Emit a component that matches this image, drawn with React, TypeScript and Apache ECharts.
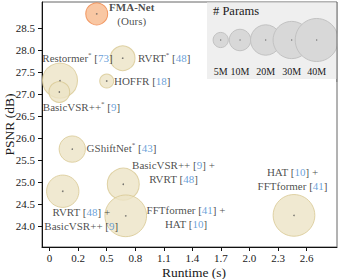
import React, { useEffect, useRef } from "react";
import * as echarts from "echarts";

// ---- data ----
const models = [
  "FMA-Net",
  "RVRT*",
  "Restormer*",
  "BasicVSR++*",
  "HOFFR",
  "GShiftNet*",
  "RVRT + BasicVSR++",
  "BasicVSR++ + RVRT",
  "FFTformer + HAT",
  "HAT + FFTformer",
];
const runtime = [0.395, 0.668, 0.009, 0.002, 0.5, 0.138, 0.038, 0.674, 0.7, 2.468];
const psnr = [28.83, 27.82, 27.31, 27.05, 27.3, 25.75, 24.79, 24.95, 24.23, 24.24];
const paramsM = [10.4, 13.2, 26.5, 9.3, 4.2, 15.0, 22.6, 22.1, 37.6, 37.6];
const labelTexts = [
  "{b|FMA-Net}\n{t|(Ours)}",
  "{t|RVRT}{s|*}{t| [}{r|48}{t|]}",
  "{t|Restormer}{s|*}{t| [}{r|73}{t|]}",
  "{t|BasicVSR++}{s|*}{t| [}{r|9}{t|]}",
  "{t|HOFFR [}{r|18}{t|]}",
  "{t|GShiftNet}{s|*}{t| [}{r|43}{t|]}",
  "{t|RVRT [}{r|48}{t|] +}\n{t|BasicVSR++ [}{r|9}{t|]}",
  "{t|BasicVSR++ [}{r|9}{t|] +}\n{t|RVRT [}{r|48}{t|]}",
  "{t|FFTformer [}{r|41}{t|] +}\n{t|HAT [}{r|10}{t|]}",
  "{t|HAT [}{r|10}{t|] +}\n{t|FFTformer [}{r|41}{t|]}",
];
const xTicks = [-0.1, 0.2, 0.5, 0.8, 1.1, 1.4, 1.7, 2.0, 2.3, 2.6];
const xTickLabels = ["0", "0.2", "0.5", "0.8", "1.1", "1.4", "1.7", "2.0", "2.3", "2.6"];
const yTicks = [24.0, 24.5, 25.0, 25.5, 26.0, 26.5, 27.0, 27.5, 28.0, 28.5];
const legendParams = [5, 10, 20, 30, 40];
const legendLabels = ["5M", "10M", "20M", "30M", "40M"];

// ---- layout / style ----
const labelOffsets: [number, number][] = [
  [35.5, 0.5],
  [42, 0.5],
  [18, -22],
  [22.7, 15],
  [36, 0],
  [49.7, -1],
  [19, 27.8],
  [50.7, -11.8],
  [60.8, 1.5],
  [-1, -36],
];
const legendX = [220.7, 240, 265.7, 291.7, 316.7];
const sizeK = 6.8;
const diam = (p: number) => sizeK * Math.sqrt(p);
const FONT = "Liberation Serif";
const TXT = "#1a1a1a";
const BLUE = "#3f88cf";

export default function App() {
  const ref = useRef<HTMLDivElement>(null);
  useEffect(() => {
    document.body.style.margin = "0";
    const chart = echarts.init(ref.current!, null, { renderer: "svg" });
    const rich = {
      t: { fontFamily: FONT, fontSize: 11, color: TXT, lineHeight: 14 },
      b: { fontFamily: FONT, fontSize: 11, fontWeight: "bold", color: TXT, lineHeight: 14 },
      r: { fontFamily: FONT, fontSize: 11, color: BLUE, lineHeight: 14 },
      s: { fontFamily: FONT, fontSize: 7, color: TXT, padding: [0, 0, 6, 0] },
    };
    const bubbleData = models.map((m, i) => {
      const ours = i === 0;
      const d = diam(paramsM[i]);
      return {
        name: m,
        value: [runtime[i], psnr[i]],
        symbolSize: d,
        itemStyle: ours
          ? { color: "#f8b98c", borderColor: "#ef8446", borderWidth: 1 }
          : { color: "#ece3c6", borderColor: "#d8c892", borderWidth: 1 },
        label: {
          show: true,
          position: [d / 2 + labelOffsets[i][0], d / 2 + labelOffsets[i][1]],
          formatter: labelTexts[i],
          rich,
          fontFamily: FONT,
          fontSize: 11,
          align: "center",
          verticalAlign: "middle",
        },
      };
    });
    const legendGraphics: any[] = [
      {
        type: "rect",
        shape: { x: 207, y: 2.5, width: 130, height: 76.5 },
        style: { fill: "#efefef" },
        z: 1,
      },
      {
        type: "text",
        x: 213,
        y: 11,
        style: {
          text: "# Params",
          font: `12.5px ${FONT}`,
          fill: TXT,
          textAlign: "left",
          textVerticalAlign: "middle",
        },
        z: 2,
      },
    ];
    legendParams.forEach((p, i) => {
      legendGraphics.push({
        type: "circle",
        shape: { cx: legendX[i], cy: 40, r: diam(p) / 2 },
        style: { fill: "#d8d8d8", stroke: "#c2c2c2", lineWidth: 1 },
        z: 2,
      });
      legendGraphics.push({
        type: "circle",
        shape: { cx: legendX[i], cy: 40, r: 0.6 },
        style: { fill: "#666" },
        z: 3,
      });
      legendGraphics.push({
        type: "text",
        x: legendX[i],
        y: 71,
        style: {
          text: legendLabels[i],
          font: `10px ${FONT}`,
          fill: TXT,
          textAlign: "center",
          textVerticalAlign: "middle",
        },
        z: 3,
      });
    });
    legendGraphics.push({
      type: "rect",
      shape: { x: 337.5, y: 0, width: 3, height: 82 },
      style: { fill: "#ffffff" },
      z: 4,
    });
    legendGraphics.push({
      type: "line",
      shape: { x1: 337, y1: 2, x2: 337, y2: 82 },
      style: { stroke: "#666", lineWidth: 1 },
      z: 5,
    });

    chart.setOption({
      animation: false,
      grid: {
        left: 42,
        top: 2,
        width: 295,
        height: 245,
        show: true,
        borderColor: "#666",
        borderWidth: 1,
        backgroundColor: "transparent",
        containLabel: false,
        outerBoundsMode: "none",
      },
      xAxis: {
        type: "value",
        min: -0.18,
        max: 2.92,
        name: "Runtime (s)",
        nameLocation: "middle",
        nameGap: 18,
        nameMoveOverlap: false,
        nameTextStyle: { fontFamily: FONT, fontSize: 13.5, color: TXT, padding: [0, 0, 0, 9] },
        axisLine: { onZero: false, lineStyle: { color: "#111", width: 1 } },
        axisTick: { show: true, length: 4, customValues: xTicks, lineStyle: { color: "#111" } },
        axisLabel: {
          customValues: xTicks,
          margin: 5,
          fontFamily: FONT,
          fontSize: 11,
          color: TXT,
          formatter: (v: number) => {
            const idx = xTicks.findIndex((t) => Math.abs(t - v) < 1e-6);
            return idx >= 0 ? xTickLabels[idx] : "";
          },
        },
        splitLine: { show: false },
      },
      yAxis: {
        type: "value",
        min: 23.52,
        max: 29.1,
        name: "PSNR (dB)",
        nameLocation: "middle",
        nameGap: 26,
        nameMoveOverlap: false,
        nameTextStyle: { fontFamily: FONT, fontSize: 13.5, color: TXT },
        axisLine: { show: true, onZero: false, lineStyle: { color: "#111", width: 1 } },
        axisTick: { show: true, length: 4, customValues: yTicks, lineStyle: { color: "#111" } },
        axisLabel: {
          customValues: yTicks,
          margin: 7,
          fontFamily: FONT,
          fontSize: 11,
          color: TXT,
          formatter: (v: number) => v.toFixed(1),
        },
        splitLine: { show: false },
      },
      graphic: legendGraphics,
      series: [
        {
          type: "scatter",
          data: bubbleData,
          clip: false,
          z: 2,
        },
        {
          type: "scatter",
          data: models.map((m, i) => [runtime[i], psnr[i]]),
          symbolSize: 1.6,
          itemStyle: { color: "#555" },
          silent: true,
          z: 3,
        },
      ],
    });
    return () => chart.dispose();
  }, []);
  return (
    <div
      ref={ref}
      style={{ position: "absolute", left: 0, top: 0, width: 340, height: 279, background: "#fff" }}
    />
  );
}
